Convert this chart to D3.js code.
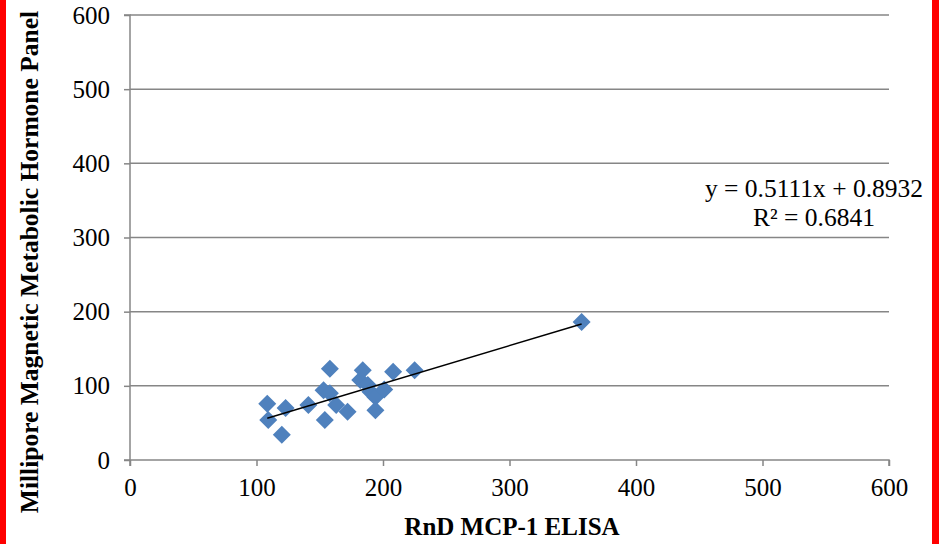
<!DOCTYPE html>
<html><head><meta charset="utf-8">
<script src="https://cdn.jsdelivr.net/npm/d3@7"></script>
<style>body{margin:0;background:#fff;} svg{display:block;}</style>
</head><body>
<svg id="c" width="949" height="544"></svg>
<script>
const xVals = [108.5,109.3,120,123,141,153,158,154,158,163,172,182,184,188,190,194,194,201,208,225,357];
const yVals = [76,54,34,70,74,94,90,54,123,74,65,108,121,101,92,85,67,95,119,121,186];
const xTicks = [0,100,200,300,400,500,600];
const yTicks = [0,100,200,300,400,500,600];
const slope = 0.5111, intercept = 0.8932, r2 = 0.6841;
const xTitle = "RnD MCP-1 ELISA";
const yTitle = "Millipore Magnetic Metabolic Hormone Panel";

const svg = d3.select("#c");
svg.append("rect").attr("x",0).attr("y",0).attr("width",949).attr("height",544).attr("fill","#fff");
svg.append("rect").attr("x",0).attr("y",0).attr("width",6).attr("height",544).attr("fill","#ff0000");
svg.append("rect").attr("x",932).attr("y",0).attr("width",7).attr("height",544).attr("fill","#ff0000");

const L=130,R=889,T=15,B=460;
const x = d3.scaleLinear().domain([0,600]).range([L,R]);
const y = d3.scaleLinear().domain([0,600]).range([B,T]);
const font = "'Liberation Serif','Times New Roman',serif";
const grid = "#868686";

// grid
svg.append("g").selectAll("line").data(yTicks.filter(d=>d>0)).join("line")
  .attr("x1",L).attr("x2",R).attr("y1",d=>y(d)).attr("y2",d=>y(d))
  .attr("stroke",grid).attr("stroke-width",1.5);

const xa = svg.append("g").attr("transform",`translate(0,${B})`)
  .call(d3.axisBottom(x).tickValues(xTicks).tickSize(6).tickPadding(12));
const ya = svg.append("g").attr("transform",`translate(${L},0)`)
  .call(d3.axisLeft(y).tickValues(yTicks).tickSize(6).tickPadding(14));
[xa,ya].forEach(a=>{
  a.select(".domain").attr("stroke",grid).attr("stroke-width",1.5);
  a.selectAll(".tick line").attr("stroke",grid).attr("stroke-width",1.5);
  a.selectAll("text").attr("fill","#000").style("font-family",font).style("font-size","25px");
});
xa.select(".domain").attr("d",`M${L},6V0H${R}V6`);
ya.select(".domain").attr("d",`M-6,${T}H0V${B}H-6`);

// points
const sym = d3.symbol().type(d3.symbolSquare).size(162);
svg.append("g").selectAll("path").data(xVals.map((v,i)=>[v,yVals[i]])).join("path")
  .attr("d",sym)
  .attr("transform",d=>`translate(${x(d[0])},${y(d[1])}) rotate(45)`)
  .attr("fill","#4f81bd");

// trendline
const x0 = d3.min(xVals), x1 = d3.max(xVals);
svg.append("line")
  .attr("x1",x(x0)).attr("y1",y(slope*x0+intercept))
  .attr("x2",x(x1)).attr("y2",y(slope*x1+intercept))
  .attr("stroke","#000").attr("stroke-width",1.5);

// equation
svg.append("text").attr("x",814).attr("y",197).attr("text-anchor","middle")
  .style("font-family",font).style("font-size","25.5px")
  .text(`y = ${slope}x + ${intercept}`);
svg.append("text").attr("x",814).attr("y",226).attr("text-anchor","middle")
  .style("font-family",font).style("font-size","25.5px")
  .text(`R² = ${r2}`);

// titles
svg.append("text").attr("x",512).attr("y",535).attr("text-anchor","middle")
  .style("font-family",font).style("font-size","25px").style("font-weight","bold")
  .text(xTitle);
svg.append("text").attr("transform","translate(38,262) rotate(-90)").attr("text-anchor","middle")
  .style("font-family",font).style("font-size","25.5px").style("font-weight","bold")
  .text(yTitle);
</script>
</body></html>
